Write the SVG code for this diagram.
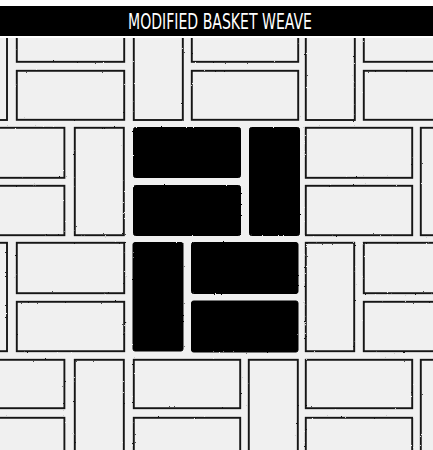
<svg xmlns="http://www.w3.org/2000/svg" width="433" height="450" viewBox="0 0 433 450">
  <defs>
    <style>
      .t { fill: #f0f0f0; stroke: #161616; stroke-width: 1.9; }
      .b { fill: #000; stroke: #000; stroke-width: 1; }
      .title { font-family: "Liberation Sans Narrow", "DejaVu Sans Condensed", "Liberation Sans", sans-serif; font-size: 21px; fill: #fff; }
    </style>
    <filter id="rough" x="-5%" y="-5%" width="110%" height="110%">
      <feTurbulence type="fractalNoise" baseFrequency="0.9" numOctaves="2" seed="4" result="n"/>
      <feDisplacementMap in="SourceGraphic" in2="n" scale="1.8" xChannelSelector="R" yChannelSelector="G"/>
    </filter>
    <clipPath id="field"><rect x="0" y="38" width="433" height="412"/></clipPath>
  </defs>
  <rect x="0" y="0" width="433" height="450" fill="#fff"/>
  <rect x="0" y="38" width="433" height="412" fill="#f0f0f0"/>
  <g clip-path="url(#field)">
    <g id="tiles" filter="url(#rough)">
      <g id="row0">
        <rect class="t" x="-42" y="10" width="49" height="110"/>
        <rect class="t" x="16.8" y="10" width="107.4" height="51.8"/>
        <rect class="t" x="16.8" y="70.8" width="107.4" height="49"/>
        <rect class="t" x="133.8" y="10" width="49" height="110"/>
        <rect class="t" x="191.8" y="10" width="106.4" height="51.8"/>
        <rect class="t" x="191.8" y="70.8" width="106.4" height="49"/>
        <rect class="t" x="305.8" y="10" width="49" height="110"/>
        <rect class="t" x="363.8" y="10" width="107.4" height="51.8"/>
        <rect class="t" x="363.8" y="70.8" width="107.4" height="49"/>
      </g>
      <g id="row1">
        <rect class="t" x="-42" y="127.8" width="106.4" height="50"/>
        <rect class="t" x="-42" y="185.8" width="106.4" height="49.4"/>
        <rect class="t" x="74.8" y="127.8" width="49" height="107.4"/>
        <rect class="t" x="305.8" y="127.8" width="106.4" height="50"/>
        <rect class="t" x="305.8" y="185.8" width="106.4" height="49.4"/>
        <rect class="t" x="420.8" y="127.8" width="49" height="107.4"/>
      </g>
      <g id="row2">
        <rect class="t" x="-42" y="242.8" width="49" height="108.4"/>
        <rect class="t" x="16.8" y="242.8" width="107.4" height="50.4"/>
        <rect class="t" x="16.8" y="301.8" width="107.4" height="49.4"/>
        <rect class="t" x="305.8" y="242.8" width="48.4" height="108.4"/>
        <rect class="t" x="363.8" y="242.8" width="107.4" height="50.4"/>
        <rect class="t" x="363.8" y="301.8" width="107.4" height="49.4"/>
      </g>
      <g id="row3">
        <rect class="t" x="-42" y="359.8" width="106.4" height="48.4"/>
        <rect class="t" x="-42" y="417.8" width="106.4" height="50"/>
        <rect class="t" x="74.8" y="359.8" width="49" height="108"/>
        <rect class="t" x="133.8" y="359.8" width="106.4" height="48.4"/>
        <rect class="t" x="133.8" y="417.8" width="106.4" height="50"/>
        <rect class="t" x="248.8" y="359.8" width="49" height="108"/>
        <rect class="t" x="305.8" y="359.8" width="106.4" height="48.4"/>
        <rect class="t" x="305.8" y="417.8" width="106.4" height="50"/>
        <rect class="t" x="420.8" y="359.8" width="49" height="108"/>
      </g>
    </g>
    <g id="dark" filter="url(#rough)">
      <rect class="b" x="133.5" y="127.5" width="107" height="50" rx="2"/>
      <rect class="b" x="133.5" y="185.5" width="107" height="50" rx="2"/>
      <rect class="b" x="249.5" y="127.5" width="50" height="108" rx="2"/>
      <rect class="b" x="133" y="242.5" width="50" height="108.5" rx="2"/>
      <rect class="b" x="191.5" y="242.5" width="106.5" height="51" rx="2"/>
      <rect class="b" x="191.5" y="301" width="106.5" height="51" rx="2"/>
    </g>
  </g>
  <g id="titlebar">
    <rect x="0" y="6" width="433" height="30" fill="#000"/>
    <text class="title" x="220" y="29" text-anchor="middle" textLength="184" lengthAdjust="spacingAndGlyphs">MODIFIED BASKET WEAVE</text>
  </g>
</svg>
